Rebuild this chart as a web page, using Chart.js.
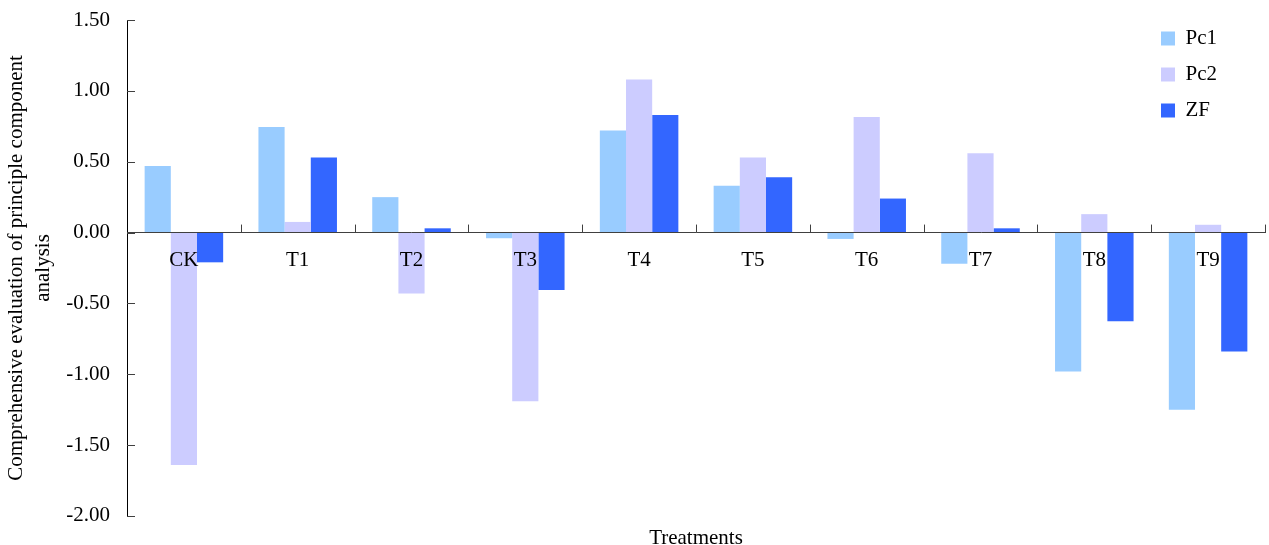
<!DOCTYPE html>
<html>
<head>
<meta charset="utf-8">
<script src="https://cdn.jsdelivr.net/npm/chart.js@4"></script>
<style>
  body { margin: 0; background: #fff; }
  #wrap { width: 1269px; height: 545px; }
</style>
</head>
<body>
<div id="wrap"><canvas id="pcaChart" width="1269" height="545"></canvas></div>
<script>
// data
var treatments = ['CK', 'T1', 'T2', 'T3', 'T4', 'T5', 'T6', 'T7', 'T8', 'T9'];
var pc1 = [0.47, 0.745, 0.25, -0.04, 0.72, 0.33, -0.045, -0.22, -0.98, -1.25];
var pc2 = [-1.64, 0.075, -0.43, -1.19, 1.08, 0.53, 0.815, 0.56, 0.13, 0.055];
var zf = [-0.21, 0.53, 0.03, -0.405, 0.83, 0.39, 0.24, 0.03, -0.625, -0.84];
var yTicks = [-2.0, -1.5, -1.0, -0.5, 0.0, 0.5, 1.0, 1.5];

var serif = 'Liberation Serif, Times New Roman, serif';

// inside tick marks + legend placement
var tickPlugin = {
    id: 'insideTicks',
    afterLayout: function(chart) {
        var lg = chart.legend;
        if (lg) {
            lg.left = chart.chartArea.right - 119;
            lg.top = chart.chartArea.top - 7;
        }
    },
    afterDatasetsDraw: function(chart) {
        var ctx = chart.ctx;
        var x = chart.scales.x;
        var y = chart.scales.y;
        var zero = y.getPixelForValue(0);
        ctx.save();
        ctx.strokeStyle = '#404040';
        ctx.lineWidth = 1;
        ctx.beginPath();
        for (var i = 1; i <= treatments.length; i++) {
            var px = Math.round(x.getPixelForValue(i - 0.5)) + 0.5;
            ctx.moveTo(px, zero);
            ctx.lineTo(px, zero - 8);
        }
        yTicks.forEach(function(v) {
            var py = Math.round(y.getPixelForValue(v)) + 0.5;
            ctx.moveTo(y.right, py);
            ctx.lineTo(y.right + 8, py);
        });
        ctx.stroke();
        ctx.restore();
    }
};

const ctx = document.getElementById('pcaChart').getContext('2d');
const pcaChart = new Chart(ctx, {
    type: 'bar',
    data: {
        labels: treatments,
        datasets: [
            { label: 'Pc1', data: pc1, backgroundColor: '#99ccff', borderWidth: 0 },
            { label: 'Pc2', data: pc2, backgroundColor: '#ccccff', borderWidth: 0 },
            { label: 'ZF', data: zf, backgroundColor: '#3366ff', borderWidth: 0 }
        ]
    },
    options: {
        responsive: false,
        animation: false,
        layout: { padding: { left: 0, right: 4, top: 20, bottom: 0 } },
        datasets: { bar: { categoryPercentage: 0.69, barPercentage: 1.0 } },
        scales: {
            x: {
                position: { y: 0 },
                offset: true,
                grid: { display: false, drawTicks: false },
                border: { display: true, color: '#404040', width: 1, z: 1 },
                ticks: { color: '#000', font: { family: serif, size: 21 }, padding: 15, maxRotation: 0, z: 1 }
            },
            y: {
                min: -2,
                max: 1.5,
                afterFit: function(scale) { scale.width = 127; },
                afterBuildTicks: function(scale) {
                    scale.ticks = yTicks.map(function(v) { return { value: v }; });
                },
                grid: { display: false, drawTicks: true, tickLength: 15, tickColor: 'rgba(0,0,0,0)' },
                border: { display: true, color: '#000', width: 1 },
                ticks: {
                    color: '#000',
                    padding: 2,
                    font: { family: serif, size: 21 },
                    callback: function(v) { return Number(v).toFixed(2); }
                },
                title: {
                    display: true,
                    text: ['Comprehensive evaluation of principle component', 'analysis'],
                    color: '#000',
                    font: { family: serif, size: 21, lineHeight: 1.3 },
                    padding: { top: 3, bottom: 0 }
                }
            }
        },
        plugins: {
            legend: {
                position: 'chartArea',
                align: 'start',
                labels: {
                    boxWidth: 14,
                    boxHeight: 14,
                    padding: 15,
                    color: '#000',
                    font: { family: serif, size: 21 }
                }
            },
            title: {
                display: true,
                position: 'bottom',
                fullSize: false,
                text: 'Treatments',
                color: '#000',
                font: { family: serif, size: 21, weight: 'normal', lineHeight: 0.62 },
                padding: { top: 16, bottom: 0 }
            },
            tooltip: { enabled: false }
        }
    },
    plugins: [tickPlugin]
});
</script>
</body>
</html>
